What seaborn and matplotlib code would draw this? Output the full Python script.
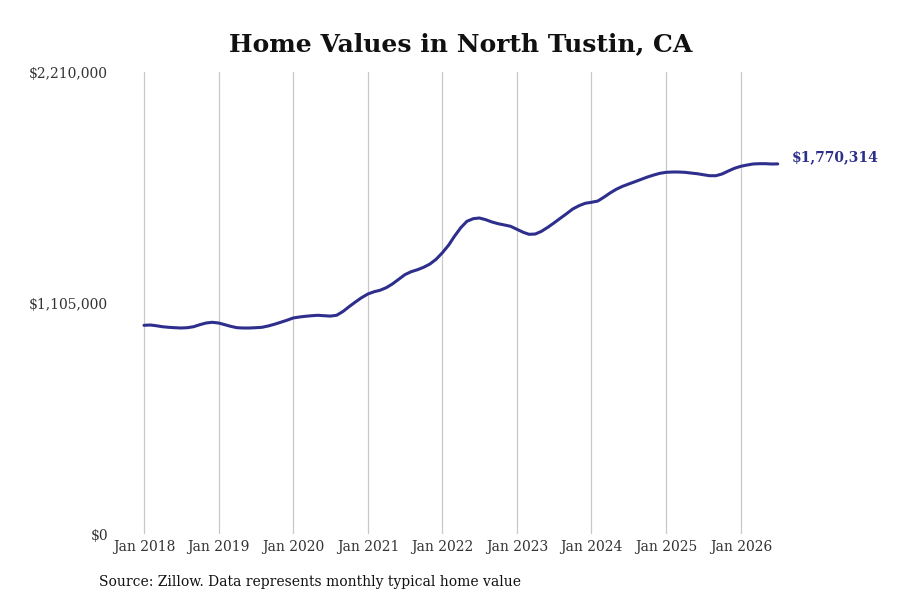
import pandas as pd
import numpy as np
import seaborn as sns
import matplotlib.pyplot as plt
import matplotlib.dates as mdates
from matplotlib.ticker import FuncFormatter
from matplotlib.transforms import ScaledTranslation

# monthly typical home value, Jan 2018 - Jul 2026
months = pd.date_range("2018-01-01", "2026-07-01", freq="MS")
values = [
    998300, 999750, 996400, 991600, 988750, 986830, 985400, 986800, 991600, 1001200, 1009300, 1012700,
    1009300, 1001200, 993500, 986800, 985400, 985400, 986800, 988700, 995000, 1003100, 1012700, 1022200,
    1033200, 1038000, 1041400, 1044200, 1046200, 1044200, 1042300, 1046200, 1064300, 1087300, 1109800, 1130300,
    1148000, 1159000, 1165700, 1178200, 1195900, 1218400, 1240400, 1254700, 1264300, 1275800, 1291500, 1314000,
    1345600, 1382400, 1424100, 1465200, 1495800, 1508300, 1511600, 1503500, 1492400, 1484300, 1478100, 1471900,
    1457500, 1443200, 1433600, 1435000, 1447900, 1467100, 1487700, 1510200, 1532200, 1554600, 1570400, 1581900,
    1586700, 1592900, 1610600, 1631200, 1648900, 1663200, 1674200, 1685300, 1696700, 1707700, 1717300, 1725400,
    1730200, 1731600, 1731600, 1730200, 1726800, 1723500, 1718700, 1713900, 1713900, 1722100, 1736400, 1749300,
    1758900, 1765100, 1769900, 1771400, 1771400, 1769900, 1770314,
]
y_ticks = [0, 1105000, 2210000]
year_ticks = pd.date_range("2018-01-01", "2026-01-01", freq="YS")

title = "Home Values in North Tustin, CA"
source = "Source: Zillow. Data represents monthly typical home value"
line_color = "#2e2e8c"

df = pd.DataFrame({"date": months, "value": values})

sns.set_theme(style="white")
plt.rcParams["font.family"] = "DejaVu Serif"

fig = plt.figure(figsize=(9, 6), dpi=100)
ax = fig.add_axes([115 / 900, 66 / 600, 685 / 900, 462 / 600])

sns.lineplot(data=df, x="date", y="value", ax=ax, color=line_color, linewidth=2.2)

# x scale: Jan 2018 sits at 29 px from the axes' left edge, ~74.6 px per year
px_per_day = 74.6 / 365.25
x0 = mdates.date2num(pd.Timestamp("2018-01-01")) - 29 / px_per_day
x1 = x0 + 685 / px_per_day
ax.set_xlim(x0, x1)
ax.set_ylim(0, 2210000)

ax.set_xticks(year_ticks)
ax.xaxis.set_major_formatter(mdates.DateFormatter("%b %Y"))
ax.set_yticks(y_ticks)
ax.yaxis.set_major_formatter(FuncFormatter(lambda v, p: f"${v:,.0f}"))

ax.grid(axis="x", color="#c8c8c8", linewidth=0.9)
ax.grid(axis="y", visible=False)
for s in ax.spines.values():
    s.set_visible(False)
ax.tick_params(axis="x", length=0, pad=4, labelsize=10, labelcolor="#333333")
ax.tick_params(axis="y", length=0, pad=5, labelsize=10, labelcolor="#333333")
shift = ScaledTranslation(0, -2 / 100, fig.dpi_scale_trans)
for lab in ax.get_yticklabels():
    lab.set_verticalalignment("center")
    lab.set_transform(lab.get_transform() + shift)
ax.set_xlabel("")
ax.set_ylabel("")

ax.annotate(f"${values[-1]:,.0f}", xy=(months[-1], values[-1]), xytext=(10, 4.5),
            textcoords="offset points", va="center", ha="left",
            fontsize=10, fontweight="bold", color=line_color, annotation_clip=False)

fig.text(461 / 900, 1 - 44 / 600, title, ha="center", va="center",
         fontsize=18, fontweight="bold", color="#111111")
fig.text(99 / 900, 1 - 582 / 600, source, ha="left", va="center",
         fontsize=10, color="#111111")

fig.savefig("out.png", dpi=100)
